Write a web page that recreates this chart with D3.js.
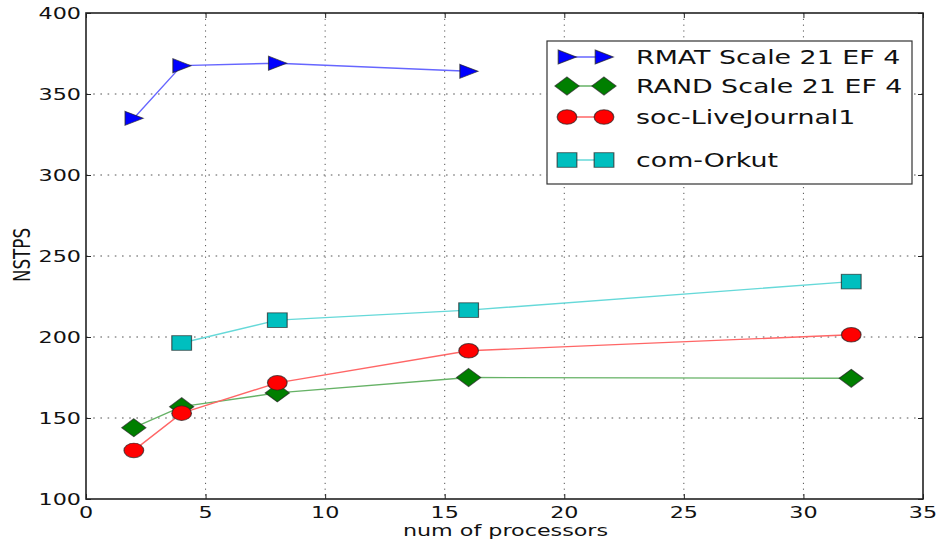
<!DOCTYPE html>
<html><head><meta charset="utf-8">
<script src="https://cdn.jsdelivr.net/npm/d3@7"></script>
<style>body{margin:0;background:#fff}svg{display:block}text{font-family:"DejaVu Sans",sans-serif;fill:#111}</style>
</head><body><svg id="c" width="940" height="542"></svg>
<script>
const xTicks = [0,5,10,15,20,25,30,35];
const yTicks = [100,150,200,250,300,350,400];
const seriesNames = ["RMAT Scale 21 EF 4","RAND Scale 21 EF 4","soc-LiveJournal1","com-Orkut"];
const rmatX = [2,4,8,16];
const rmatY = [335,367.5,369,364];
const randX = [2,4,8,16,32];
const randY = [144,157,165.5,175,174.5];
const socX = [2,4,8,16,32];
const socY = [130,153,171.7,191.5,201.4];
const orkutX = [4,8,16,32];
const orkutY = [196.3,210.4,216.6,234.2];

const SX = 1.39;
const svg = d3.select("#c");
const L=86, R=923, T=13, B=499;
const x = d3.scaleLinear().domain([0,35]).range([L,R]);
const y = d3.scaleLinear().domain([100,400]).range([B,T]);

const series = [
  {name:seriesNames[0], xs:rmatX, ys:rmatY, color:"#0000ff", line:"#6666ff", shape:"tri"},
  {name:seriesNames[1], xs:randX, ys:randY, color:"#007f00", line:"#66b266", shape:"diamond"},
  {name:seriesNames[2], xs:socX, ys:socY, color:"#ff0000", line:"#ff6666", shape:"circle"},
  {name:seriesNames[3], xs:orkutX, ys:orkutY, color:"#00bfbf", line:"#66d9d9", shape:"square"}
];

function txt(g, s, px, py, size, anchor){
  return g.append("text").attr("transform", `translate(${px},${py}) scale(${SX},1)`)
    .attr("font-size", size).attr("text-anchor", anchor||"start").text(s);
}

// grid
const grid = svg.append("g");
xTicks.slice(1,-1).forEach(v=>grid.append("line").attr("x1",x(v)).attr("x2",x(v)).attr("y1",T).attr("y2",B)
  .attr("stroke","#555").attr("stroke-width",1).attr("stroke-dasharray","1.2,4.6"));
yTicks.slice(1,-1).forEach(v=>grid.append("line").attr("y1",y(v)).attr("y2",y(v)).attr("x1",L).attr("x2",R)
  .attr("stroke","#555").attr("stroke-width",1).attr("stroke-dasharray","1.6,5.6"));

// axes with d3 axis generators (inward ticks)
const axB = svg.append("g").attr("transform",`translate(0,${B})`).call(d3.axisBottom(x).tickValues(xTicks).tickSize(-5).tickFormat(""));
const axT = svg.append("g").attr("transform",`translate(0,${T})`).call(d3.axisTop(x).tickValues(xTicks).tickSize(-5).tickFormat(""));
const axL = svg.append("g").attr("transform",`translate(${L},0)`).call(d3.axisLeft(y).tickValues(yTicks).tickSize(-5).tickFormat(""));
const axR = svg.append("g").attr("transform",`translate(${R},0)`).call(d3.axisRight(y).tickValues(yTicks).tickSize(-5).tickFormat(""));
[axB,axT,axL,axR].forEach(a=>{a.select(".domain").remove();a.selectAll("line").attr("stroke","#222").attr("stroke-width",1);});
svg.append("rect").attr("x",L).attr("y",T).attr("width",R-L).attr("height",B-T).attr("fill","none").attr("stroke","#222").attr("stroke-width",1.6);

// tick labels
const lab = svg.append("g");
xTicks.forEach(v=>txt(lab, String(v), x(v), 518, 16, "middle"));
yTicks.forEach(v=>txt(lab, String(v), L-5, y(v)+6, 16, "end"));
txt(lab, "num of processors", (L+R)/2+1, 536, 16, "middle");
lab.append("text").attr("transform",`translate(30,255) scale(${SX},1) rotate(-90)`).attr("font-size",16)
  .attr("text-anchor","middle").attr("textLength",54).attr("lengthAdjust","spacingAndGlyphs").text("NSTPS");

function marker(g, shape, cx, cy, color){
  const m = g.append("g").attr("transform",`translate(${cx},${cy}) scale(${SX*0.97},1)`);
  let el;
  if(shape==="tri") el = m.append("path").attr("d","M-6.5,-7 L7,0 L-6.5,7 Z");
  else if(shape==="diamond") el = m.append("path").attr("d","M0,-9 L9,0 L0,9 L-9,0 Z");
  else if(shape==="circle") el = m.append("circle").attr("r",7.3);
  else el = m.append("rect").attr("x",-7.3).attr("y",-7.3).attr("width",14.6).attr("height",14.6);
  el.attr("fill",color).attr("stroke","#222").attr("stroke-opacity",0.7).attr("stroke-width",0.9);
}

const plot = svg.append("g");
series.forEach(s=>{
  const pts = s.xs.map((v,i)=>[v,s.ys[i]]);
  plot.append("path").datum(pts).attr("d",d3.line().x(d=>x(d[0])).y(d=>y(d[1])))
    .attr("fill","none").attr("stroke",s.line).attr("stroke-width",1.4);
  pts.forEach(p=>marker(plot, s.shape, x(p[0]), y(p[1]), s.color));
});

// legend
const lg = svg.append("g");
lg.append("rect").attr("x",547).attr("y",41).attr("width",365).attr("height",143).attr("fill","#fff")
  .attr("stroke","#333").attr("stroke-width",1.2);
const rowY = [57,86,117,160];
series.forEach((s,i)=>{
  lg.append("line").attr("x1",567).attr("x2",604).attr("y1",rowY[i]).attr("y2",rowY[i]).attr("stroke",s.line).attr("stroke-width",1.4);
  marker(lg, s.shape, 567, rowY[i], s.color);
  marker(lg, s.shape, 604, rowY[i], s.color);
  txt(lg, s.name, 636, rowY[i]+7, 19.3, "start");
});
</script></body></html>
